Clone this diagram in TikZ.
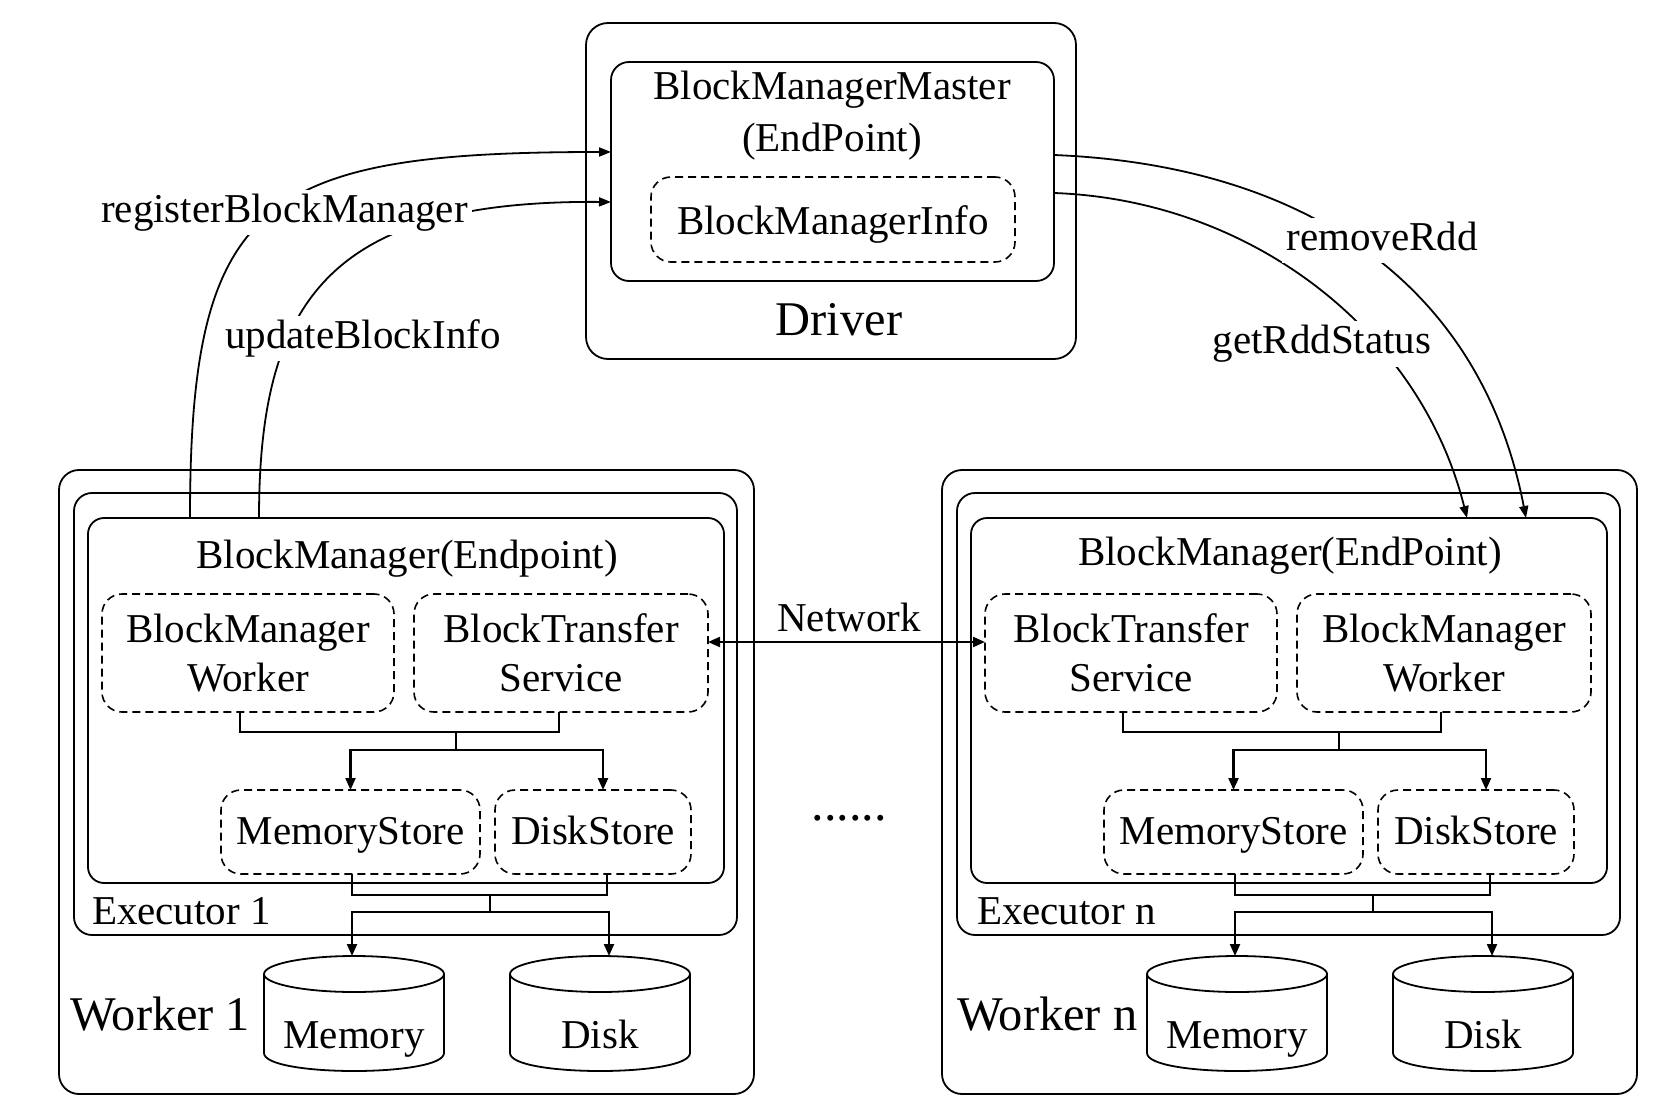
\documentclass[tikz,border=0pt]{standalone}
\usepackage{fontspec}
\setmainfont{Liberation Serif}
\usetikzlibrary{arrows.meta,calc}
\begin{document}
\begin{tikzpicture}[x=0.5pt,y=-0.5pt,
  every node/.style={inner sep=0pt, outer sep=0pt},
  txt/.style={font=\fontsize{20.5}{24.5}\selectfont},
  fixh/.style={text height=17.4pt, text depth=4.5pt},
  bigtxt/.style={font=\fontsize{24.2}{28}\selectfont},
  solidbox/.style={draw, line width=0.9pt, rounded corners=#1},
  solidbox/.default=9pt,
  dashbox/.style={draw, line width=0.8pt, dash pattern=on 4pt off 2.5pt, rounded corners=10pt},
  conn/.style={line width=1.1pt},
  arr/.style={line width=1.1pt, -{Triangle[length=6pt,width=5pt]}},
  darr/.style={line width=1.1pt, {Triangle[length=6pt,width=5pt]}-{Triangle[length=6pt,width=5pt]}},
  curve/.style={line width=0.9pt, -{Triangle[length=6pt,width=4.5pt]}},
  cyl/.style={line width=0.9pt},
  lbl/.style={txt, text height=14pt, text depth=4.5pt, fill=white, inner sep=2pt}
]
\useasboundingbox (0,0) rectangle (1674,1112);

% ---------- Driver ----------
\node[solidbox=11pt, minimum width=245pt, minimum height=168pt] (driver) at (831,191) {};
\node[solidbox=9pt, minimum width=221.5pt, minimum height=109.5pt] (master) at (832.5,171.5) {};
\node[font=\fontsize{20.5}{26}\selectfont, align=center] (mastertxt) at (832,116) {BlockManagerMaster\\(EndPoint)};
\node[dashbox, txt, text height=19.5pt, text depth=4.5pt, minimum width=182pt, minimum height=42.5pt] (bminfo) at (833,219.5) {BlockManagerInfo};
\node[bigtxt] (driverlbl) at (839,320) {Driver};

% ---------- Worker 1 ----------
\node[solidbox=10pt, minimum width=347.5pt, minimum height=312pt] (worker1) at (406.5,782) {};
\node[solidbox=9pt, minimum width=331.5pt, minimum height=221pt] (exec1) at (405.5,714) {};
\node[solidbox=8pt, minimum width=318pt, minimum height=182.5pt] (bm1) at (406,700.5) {};
\node[txt] (bm1t) at (407,559) {BlockManager(Endpoint)};
\node[dashbox, txt, align=center, minimum width=146pt, minimum height=59pt] (bmw1) at (248,653) {BlockManager\\Worker};
\node[dashbox, txt, align=center, minimum width=147pt, minimum height=59pt] (bts1) at (561,653) {BlockTransfer\\Service};
\node[dashbox, txt, fixh, minimum width=129.5pt, minimum height=42pt] (ms1) at (350.5,832) {MemoryStore};
\node[dashbox, txt, fixh, minimum width=98pt, minimum height=42pt] (ds1) at (593,832) {DiskStore};
\node[txt, anchor=west] (exec1t) at (92,911) {Executor 1};
\node[bigtxt, anchor=west] (worker1t) at (70,1014) {Worker 1};
\node[minimum width=90pt, minimum height=57.5pt] (mem1) at (354,1013.5) {};
\node[minimum width=90pt, minimum height=57.5pt] (disk1) at (600,1013.5) {};
\draw[cyl] (264,974) -- (264,1053) .. controls (264,1077) and (444,1077) .. (444,1053) -- (444,974);
\draw[cyl] (354,974) ellipse [x radius=90, y radius=18];
\draw[cyl] (510,974) -- (510,1053) .. controls (510,1077) and (690,1077) .. (690,1053) -- (690,974);
\draw[cyl] (600,974) ellipse [x radius=90, y radius=18];
\node[txt, fixh] (mem1t) at (354,1036) {Memory};
\node[txt, fixh] (disk1t) at (600,1036) {Disk};

\coordinate (j1) at (456,732); \coordinate (k1) at (456,750);
\draw[conn] ($(bmw1.south)+(-8,0)$) |- (j1) -| ($(bts1.south)+(-2,0)$);
\draw[conn] (j1) -- (k1);
\draw[arr] (k1) -| (ms1.north);
\draw[arr] (k1) -| ($(ds1.north)+(10,0)$);
\coordinate (p1) at (490,895); \coordinate (q1) at (490,912);
\draw[conn] ($(ms1.south)+(1.5,0)$) |- (p1) -| ($(ds1.south)+(14,0)$);
\draw[conn] (p1) -- (q1);
\draw[arr] (q1) -| ($(mem1.north)+(-2,0)$);
\draw[arr] (q1) -| ($(disk1.north)+(9,0)$);

% ---------- Worker n ----------
\node[solidbox=10pt, minimum width=347.5pt, minimum height=312pt] (worker2) at (1289.5,782) {};
\node[solidbox=9pt, minimum width=331.5pt, minimum height=221pt] (exec2) at (1288.5,714) {};
\node[solidbox=8pt, minimum width=318pt, minimum height=182.5pt] (bm2) at (1289,700.5) {};
\node[txt] (bm2t) at (1290,556) {BlockManager(EndPoint)};
\node[dashbox, txt, align=center, minimum width=146pt, minimum height=59pt] (bts2) at (1131,653) {BlockTransfer\\Service};
\node[dashbox, txt, align=center, minimum width=147pt, minimum height=59pt] (bmw2) at (1444,653) {BlockManager\\Worker};
\node[dashbox, txt, fixh, minimum width=129.5pt, minimum height=42pt] (ms2) at (1233.5,832) {MemoryStore};
\node[dashbox, txt, fixh, minimum width=98pt, minimum height=42pt] (ds2) at (1476,832) {DiskStore};
\node[txt, anchor=west] (exec2t) at (977,911) {Executor n};
\node[bigtxt, anchor=west] (worker2t) at (957,1014) {Worker n};
\node[minimum width=90pt, minimum height=57.5pt] (mem2) at (1237,1013.5) {};
\node[minimum width=90pt, minimum height=57.5pt] (disk2) at (1483,1013.5) {};
\draw[cyl] (1147,974) -- (1147,1053) .. controls (1147,1077) and (1327,1077) .. (1327,1053) -- (1327,974);
\draw[cyl] (1237,974) ellipse [x radius=90, y radius=18];
\draw[cyl] (1393,974) -- (1393,1053) .. controls (1393,1077) and (1573,1077) .. (1573,1053) -- (1573,974);
\draw[cyl] (1483,974) ellipse [x radius=90, y radius=18];
\node[txt, fixh] (mem2t) at (1237,1036) {Memory};
\node[txt, fixh] (disk2t) at (1483,1036) {Disk};

\coordinate (j2) at (1339,732); \coordinate (k2) at (1339,750);
\draw[conn] ($(bts2.south)+(-8,0)$) |- (j2) -| ($(bmw2.south)+(-3,0)$);
\draw[conn] (j2) -- (k2);
\draw[arr] (k2) -| (ms2.north);
\draw[arr] (k2) -| ($(ds2.north)+(10,0)$);
\coordinate (p2) at (1373,895); \coordinate (q2) at (1373,912);
\draw[conn] ($(ms2.south)+(1.5,0)$) |- (p2) -| ($(ds2.south)+(14,0)$);
\draw[conn] (p2) -- (q2);
\draw[arr] (q2) -| ($(mem2.north)+(-2,0)$);
\draw[arr] (q2) -| ($(disk2.north)+(9,0)$);

% ---------- Network ----------
\draw[darr] ($(bts1.east)+(0,-11)$) -- ($(bts2.west)+(0,-11)$);
\node[txt] (net) at (849,617) {Network};
\node[font=\fontsize{25}{28}\selectfont] (dots) at (849,818) {......};

% ---------- RPC curves ----------
\draw[curve] ($(bm1.north)+(-216,0)$) .. controls (190,200) and (260,152) .. ($(master.west)+(0,-19.5)$);
\draw[curve] ($(bm1.north)+(-147,0)$) .. controls (259,300) and (330,200) .. ($(master.west)+(0,30.5)$);
\draw[curve] ($(master.east)+(0,-16.5)$) .. controls (1300,165) and (1480,280) .. ($(bm2.north)+(237,0)$);
\draw[curve] ($(master.east)+(0,21.5)$) .. controls (1250,200) and (1420,330) .. ($(bm2.north)+(178,0)$);

\node[lbl] (reg) at (284.5,213) {registerBlockManager};
\node[lbl] (upd) at (363,339) {updateBlockInfo};
\node[lbl] (rem) at (1382,241) {removeRdd};
\node[lbl] (get) at (1322,344) {getRddStatus};
\end{tikzpicture}
\end{document}
